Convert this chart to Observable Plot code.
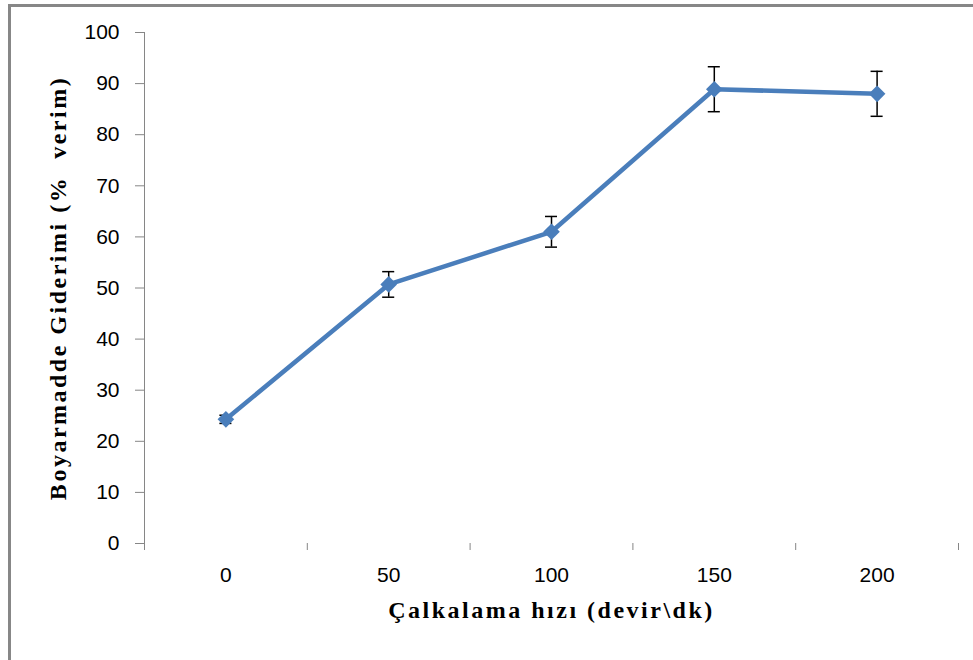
<!DOCTYPE html>
<html>
<head>
<meta charset="utf-8">
<script src="https://cdn.jsdelivr.net/npm/d3@7"></script>
<script src="https://cdn.jsdelivr.net/npm/@observablehq/plot@0.6"></script>
<style>
  html, body { margin: 0; padding: 0; background: #fff; }
  #wrap { position: relative; width: 973px; height: 660px; overflow: hidden; }
  #border { position: absolute; left: 8px; top: 4px; width: 1200px; height: 900px;
            border-left: 3px solid #878787; border-top: 3px solid #878787; pointer-events: none; }
</style>
</head>
<body>
<div id="wrap"><div id="chart"></div><div id="border"></div></div>
<script>
// Data
const speeds  = [0, 50, 100, 150, 200];          // Çalkalama hızı (devir\dk)
const removal = [24.3, 50.7, 61.0, 88.9, 88.0];   // Boyarmadde Giderimi (% verim)
const errors  = [0.8, 2.5, 3.0, 4.4, 4.4];        // error bar half-length
const yTicks  = [0, 10, 20, 30, 40, 50, 60, 70, 80, 90, 100];
const xTitle  = "Çalkalama hızı (devir\\dk)";
const yTitle  = "Boyarmadde Giderimi (%  verim)";

const step = speeds[1] - speeds[0];
const boundaries = speeds.map(s => s - step / 2).concat([speeds[speeds.length - 1] + step / 2]);
const data = speeds.map((s, i) => ({x: s, y: removal[i], e: errors[i]}));
const capHalf = step * 0.037;
const serif = "'Liberation Serif', 'Times New Roman', serif";

const chart = Plot.plot({
  width: 973,
  height: 660,
  marginLeft: 144,
  marginRight: 15,
  marginTop: 32,
  marginBottom: 117,
  x: {domain: [boundaries[0], boundaries[boundaries.length - 1]]},
  y: {domain: [0, 100]},
  style: {fontFamily: "'Liberation Sans', Arial, sans-serif", fontSize: "21px", color: "#000", background: "transparent"},
  marks: [
    Plot.ruleX([boundaries[0]], {y1: 0, y2: 100, stroke: "#868686", strokeWidth: 1}),
    Plot.axisY({ticks: yTicks, tickSize: 9, tickPadding: 16, stroke: "#868686", label: null}),
    Plot.axisX({ticks: speeds, tickSize: 0, tickPadding: 24, label: null, tickFormat: d => String(d)}),
    Plot.axisX({ticks: boundaries, tickSize: 7, stroke: "#868686", tickFormat: () => "", label: null}),
    Plot.ruleX(data, {x: "x", y1: d => d.y - d.e, y2: d => d.y + d.e, stroke: "#000", strokeWidth: 1.5}),
    Plot.ruleY(data, {y: d => d.y + d.e, x1: d => d.x - capHalf, x2: d => d.x + capHalf, stroke: "#000", strokeWidth: 1.5}),
    Plot.ruleY(data, {y: d => d.y - d.e, x1: d => d.x - capHalf, x2: d => d.x + capHalf, stroke: "#000", strokeWidth: 1.5}),
    Plot.line(data, {x: "x", y: "y", stroke: "#4a7ebb", strokeWidth: 4.5}),
    Plot.dot(data, {x: "x", y: "y", symbol: "diamond2", r: 7.5, fill: "#4a7ebb", stroke: "none"}),
    Plot.text([xTitle], {text: d => d, frameAnchor: "bottom", textAnchor: "middle", lineAnchor: "middle", dy: 67, fontFamily: serif, fontWeight: "bold", fontSize: 24, fill: "#000"}),
    Plot.text([yTitle], {text: d => d, frameAnchor: "left", textAnchor: "middle", lineAnchor: "middle", rotate: -90, dx: -86, fontFamily: serif, fontWeight: "bold", fontSize: 24, fill: "#000"})
  ]
});
d3.select(chart).selectAll("g[aria-label='text'] text").style("letter-spacing", "2.5px");
document.getElementById("chart").appendChild(chart);
</script>
</body>
</html>
